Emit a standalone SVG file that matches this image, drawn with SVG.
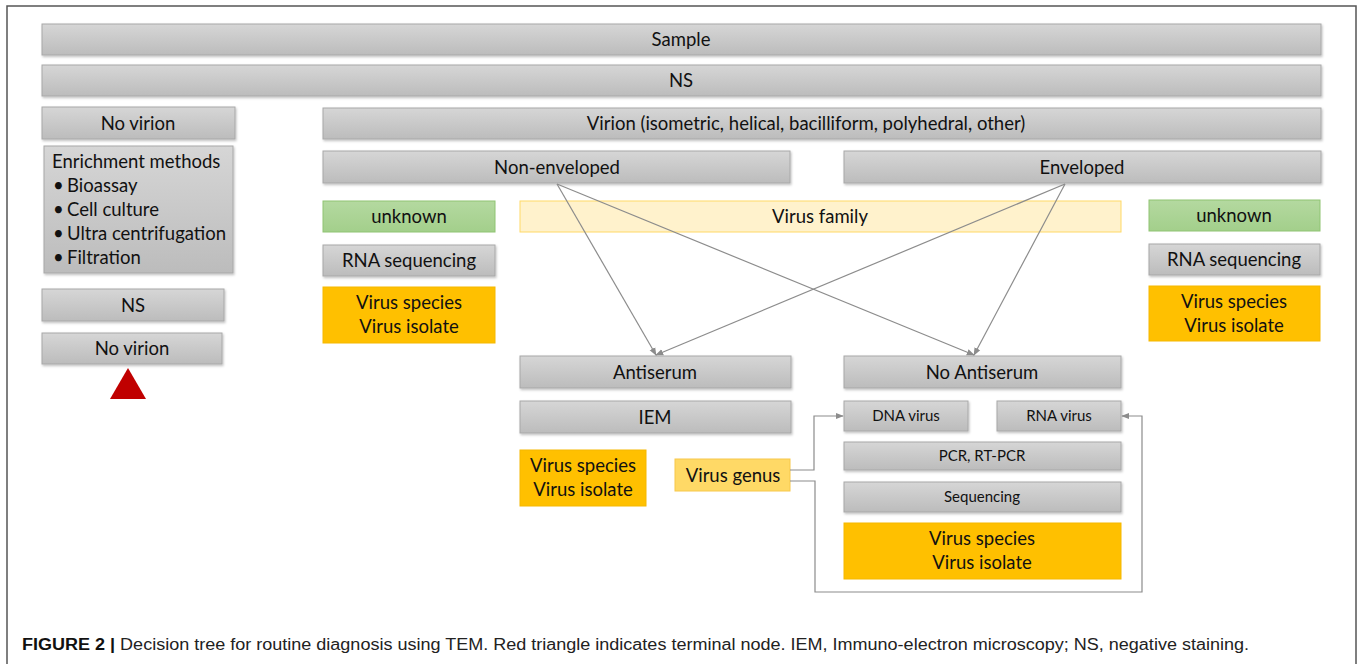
<svg xmlns="http://www.w3.org/2000/svg" width="1358" height="664" viewBox="0 0 1358 664">
<defs>
<linearGradient id="gg" x1="0" y1="0" x2="0" y2="1">
<stop offset="0" stop-color="#d6d6d6"/>
<stop offset="1" stop-color="#bcbcbc"/>
</linearGradient>
<linearGradient id="gr" x1="0" y1="0" x2="0" y2="1">
<stop offset="0" stop-color="#b4d9a0"/>
<stop offset="1" stop-color="#a3cf8b"/>
</linearGradient>
<filter id="sh" x="-5%" y="-20%" width="110%" height="150%">
<feDropShadow dx="1" dy="1.5" stdDeviation="1" flood-color="#000" flood-opacity="0.25"/>
</filter>
<marker id="ah" viewBox="0 0 10 10" refX="9" refY="5" markerWidth="8" markerHeight="8" orient="auto" markerUnits="userSpaceOnUse">
<path d="M0,1 L10,5 L0,9 z" fill="#8c8c8c"/>
</marker>
</defs>
<style>
.g{fill:url(#gg);stroke:#a8a8a8;stroke-width:1;filter:url(#sh)}
.gn{fill:url(#gr);stroke:#8fc472;stroke-width:1}
.or{fill:#ffc000;stroke:#f5b800;stroke-width:1}
.fam{fill:#fff2cc;stroke:#ffd966;stroke-width:1}
.gen{fill:#ffd966;stroke:#f7c84a;stroke-width:1}
.n{font-family:Lato,"Open Sans","Liberation Sans",sans-serif;fill:#111}
.t{font-size:18.5px;text-anchor:middle}
.s{font-size:15px;text-anchor:middle}
.l{font-size:18.5px}
.c{stroke:#8c8c8c;stroke-width:1.2;fill:none}
.cap{font-family:"Liberation Sans",Arial,sans-serif;font-size:16px;fill:#222}
</style>
<rect x="7" y="6" width="1349" height="670" fill="none" stroke="#555" stroke-width="1.5"/>

<g class="n">
<g id="sample"><rect class="g" x="42" y="24" width="1279" height="31"/><text class="t" x="681" y="46">Sample</text></g>
<g id="ns-top"><rect class="g" x="42" y="65" width="1279" height="31"/><text class="t" x="681" y="87">NS</text></g>
<g id="no-virion-1"><rect class="g" x="42" y="107" width="193" height="32"/><text class="t" x="138" y="130">No virion</text></g>
<g id="enrichment"><rect class="g" x="44" y="146" width="189" height="127"/>
<text class="l" x="52" y="168">Enrichment methods</text>
<text class="l" x="53" y="192">•</text><text class="l" x="67" y="192">Bioassay</text>
<text class="l" x="53" y="216">•</text><text class="l" x="67" y="216">Cell culture</text>
<text class="l" x="53" y="240">•</text><text class="l" x="67" y="240">Ultra centrifugation</text>
<text class="l" x="53" y="264">•</text><text class="l" x="67" y="264">Filtration</text>
</g>
<g id="ns-left"><rect class="g" x="42" y="289" width="182" height="32"/><text class="t" x="133" y="312">NS</text></g>
<g id="no-virion-2"><rect class="g" x="42" y="333" width="180" height="31"/><text class="t" x="132" y="355">No virion</text></g>
<g id="terminal"><polygon points="128,368 146,399 110,399" fill="#c00000"/></g>

<g id="virion"><rect class="g" x="323" y="108" width="998" height="31"/><text class="t" x="806" y="130">Virion (isometric, helical, bacilliform, polyhedral, other)</text></g>
<g id="non-enveloped"><rect class="g" x="323" y="151" width="467" height="32"/><text class="t" x="557" y="174">Non-enveloped</text></g>
<g id="enveloped"><rect class="g" x="844" y="151" width="477" height="32"/><text class="t" x="1082" y="174">Enveloped</text></g>

<g id="unknown-left"><rect class="gn" x="323" y="201" width="172" height="31"/><text class="t" x="409" y="223">unknown</text></g>
<g id="rna-seq-left"><rect class="g" x="323" y="245" width="172" height="31"/><text class="t" x="409" y="267">RNA sequencing</text></g>
<g id="species-left"><rect class="or" x="323" y="287" width="172" height="56"/><text class="t" x="409" y="309">Virus species</text><text class="t" x="409" y="333">Virus isolate</text></g>

<g id="virus-family"><rect class="fam" x="520" y="201" width="601" height="31"/><text class="t" x="820" y="223">Virus family</text></g>

<g id="unknown-right"><rect class="gn" x="1149" y="200" width="171" height="31"/><text class="t" x="1234" y="222">unknown</text></g>
<g id="rna-seq-right"><rect class="g" x="1149" y="244" width="171" height="31"/><text class="t" x="1234" y="266">RNA sequencing</text></g>
<g id="species-right"><rect class="or" x="1149" y="286" width="171" height="55"/><text class="t" x="1234" y="308">Virus species</text><text class="t" x="1234" y="332">Virus isolate</text></g>

<g id="antiserum"><rect class="g" x="520" y="356" width="271" height="32"/><text class="t" x="655" y="379">Antiserum</text></g>
<g id="no-antiserum"><rect class="g" x="844" y="356" width="277" height="32"/><text class="t" x="982" y="379">No Antiserum</text></g>
<g id="iem"><rect class="g" x="520" y="401" width="271" height="32"/><text class="t" x="655" y="424">IEM</text></g>
<g id="species-iem"><rect class="or" x="520" y="450" width="126" height="56"/><text class="t" x="583" y="472">Virus species</text><text class="t" x="583" y="496">Virus isolate</text></g>
<g id="virus-genus"><rect class="gen" x="675" y="459" width="115" height="32"/><text class="t" x="733" y="482">Virus genus</text></g>

<g id="dna-virus"><rect class="g" x="844" y="401" width="124" height="30"/><text class="s" x="906" y="421">DNA virus</text></g>
<g id="rna-virus"><rect class="g" x="997" y="401" width="124" height="30"/><text class="s" x="1059" y="421">RNA virus</text></g>
<g id="pcr"><rect class="g" x="844" y="442" width="277" height="28"/><text class="s" x="982" y="461">PCR, RT-PCR</text></g>
<g id="sequencing"><rect class="g" x="844" y="482" width="277" height="30"/><text class="s" x="982" y="502">Sequencing</text></g>
<g id="species-bottom"><rect class="or" x="844" y="523" width="277" height="56"/><text class="t" x="982" y="545">Virus species</text><text class="t" x="982" y="569">Virus isolate</text></g>
</g>

<g id="connectors">
<line class="c" x1="557" y1="184" x2="656" y2="355" marker-end="url(#ah)"/>
<line class="c" x1="557" y1="184" x2="974" y2="355" marker-end="url(#ah)"/>
<line class="c" x1="1065" y1="184" x2="656" y2="355" marker-end="url(#ah)"/>
<line class="c" x1="1065" y1="184" x2="974" y2="355" marker-end="url(#ah)"/>
<polyline class="c" points="790,470 814,470 814,416 843,416" marker-end="url(#ah)"/>
<polyline class="c" points="790,481 815,481 815,592 1142,592 1142,416 1122,416" marker-end="url(#ah)"/>
</g>

<text class="cap" x="22" y="650" textLength="1227" lengthAdjust="spacingAndGlyphs"><tspan font-weight="bold" style="fill:#111">FIGURE 2 |</tspan> Decision tree for routine diagnosis using TEM. Red triangle indicates terminal node. IEM, Immuno-electron microscopy; NS, negative staining.</text>
</svg>
